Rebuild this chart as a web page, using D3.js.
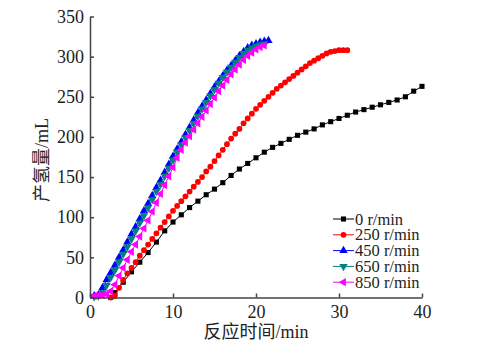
<!DOCTYPE html>
<html>
<head>
<meta charset="utf-8">
<script src="https://cdn.jsdelivr.net/npm/d3@7"></script>
<style>
  body { margin: 0; background: #fff; }
  svg text { font-family: "Liberation Serif", "Noto Sans CJK SC", serif; fill: #222; }
</style>
</head>
<body>
<div id="chart"></div>
<script>
// time (min) for each curve
var T_0 = [2.5, 3, 4, 5, 6, 7, 8, 9, 10, 11, 12, 13, 14, 15, 16, 17, 18, 19, 20, 21, 22, 23, 24, 25, 26, 27, 28, 29, 30, 31, 32, 33, 34, 35, 36, 37, 38, 39, 40];
var V_0 = [0, 6, 19, 32, 44, 56, 69, 83, 94, 103, 112, 120, 128, 135, 143, 152, 160, 167, 174, 181, 187, 192, 197, 202, 206, 210, 215, 219, 223, 227, 231, 234, 237, 240, 243, 246, 250, 257, 263];

var T_250 = [2.5, 3, 3.5, 4, 4.5, 5, 5.5, 6, 6.5, 7, 7.5, 8, 8.5, 9, 9.5, 10, 10.5, 11, 11.5, 12, 12.5, 13, 13.5, 14, 14.5, 15, 15.5, 16, 16.5, 17, 17.5, 18, 18.5, 19, 19.5, 20, 20.5, 21, 21.5, 22, 22.5, 23, 23.5, 24, 24.5, 25, 25.5, 26, 26.5, 27, 27.5, 28, 28.5, 29, 29.5, 30, 30.5, 31];
var V_250 = [0, 2, 12, 22, 30, 37, 44, 52, 59, 66, 73, 80, 87, 94, 101, 108, 114, 120, 126, 132, 138, 144, 150, 157, 163, 170, 177, 184, 191, 198, 204, 210, 217, 223, 229, 235, 240, 245, 250, 255, 260, 264, 268, 272, 276, 280, 284, 288, 292, 295, 298, 301, 304, 306, 307, 308, 308, 308];

var T_FAST = [0.5, 1, 1.5, 2, 2.5, 3, 3.5, 4, 4.5, 5, 5.5, 6, 6.5, 7, 7.5, 8, 8.5, 9, 9.5, 10, 10.5, 11, 11.5, 12, 12.5, 13, 13.5, 14, 14.5, 15, 15.5, 16, 16.5, 17, 17.5, 18, 18.5, 19, 19.5, 20, 20.5, 21, 21.5];
var V_450 = [2, 3, 12, 22, 31, 40, 50, 59, 69, 79, 88, 98, 108, 117, 127, 137, 146, 156, 166, 176, 185, 194, 203, 212, 221, 230, 238, 246, 254, 262, 269, 276, 283, 289, 295, 301, 306, 311, 314, 316, 318, 319, 320];
var V_650 = [1, 2, 6, 15, 25, 34, 44, 54, 63, 73, 83, 93, 102, 112, 122, 132, 141, 151, 161, 171, 181, 190, 199, 208, 217, 226, 235, 243, 251, 259, 267, 274, 281, 287, 293, 299, 304, 308, 311, 313, 315, 316];
var V_850 = [2, 3, 3, 4, 8, 16, 27, 37, 47, 57, 66, 76, 86, 96, 107, 118, 129, 140, 151, 162, 174, 184, 193, 201, 209, 217, 225, 233, 241, 249, 257, 264, 271, 278, 284, 290, 296, 301, 305, 309, 312, 314];

var NAMES = ["0 r/min", "250 r/min", "450 r/min", "650 r/min", "850 r/min"];
var X_TICKS = [0, 10, 20, 30, 40];
var Y_TICKS = [0, 50, 100, 150, 200, 250, 300, 350];

var series = [
  {name: NAMES[0], t: T_0, v: V_0, color: "#000000", sym: d3.symbolSquare, size: 26, rot: 0},
  {name: NAMES[1], t: T_250, v: V_250, color: "#ff0000", sym: d3.symbolCircle, size: 26, rot: 0},
  {name: NAMES[2], t: T_FAST, v: V_450, color: "#0000ff", sym: d3.symbolTriangle, size: 30, rot: 0},
  {name: NAMES[3], t: T_FAST, v: V_650, color: "#008080", sym: d3.symbolTriangle, size: 30, rot: 180},
  {name: NAMES[4], t: T_FAST, v: V_850, color: "#ff00ff", sym: d3.symbolTriangle, size: 30, rot: -90}
];

var W = 477, H = 353;
var x = d3.scaleLinear().domain([0, 40]).range([90, 422]);
var y = d3.scaleLinear().domain([0, 350]).range([297.5, 16.5]);

var svg = d3.select("#chart").append("svg").attr("width", W).attr("height", H);

// curves
var line = d3.line().x(function(d) { return x(d[0]); }).y(function(d) { return y(d[1]); });
series.forEach(function(s) {
  var pts = s.v.map(function(v, i) { return [s.t[i], v]; });
  var g = svg.append("g");
  g.append("path").datum(pts).attr("d", line)
    .attr("fill", "none").attr("stroke", s.color).attr("stroke-width", 1);
  g.selectAll("path.m").data(pts).enter().append("path").attr("class", "m")
    .attr("d", d3.symbol().type(s.sym).size(s.size))
    .attr("transform", function(d) { return "translate(" + x(d[0]) + "," + y(d[1]) + ") rotate(" + s.rot + ")"; })
    .attr("fill", s.color);
});

// axes (ticks inside)
var xAxis = svg.append("g").attr("transform", "translate(0," + y(0) + ")")
  .call(d3.axisBottom(x).tickValues(X_TICKS).tickSize(-4).tickPadding(8).tickSizeOuter(0));
var yAxis = svg.append("g").attr("transform", "translate(" + x(0) + ",0)")
  .call(d3.axisLeft(y).tickValues(Y_TICKS).tickSize(-4).tickPadding(6).tickSizeOuter(0));
[xAxis, yAxis].forEach(function(a) {
  a.selectAll("path, line").attr("stroke", "#444").attr("stroke-width", 1.5);
  a.selectAll("text").style("font-size", "18px").style("font-family", "Liberation Serif").attr("fill", "#222");
});
xAxis.selectAll("text").attr("dy", "0.71em");

// axis titles
svg.append("text").attr("x", 256).attr("y", 338).attr("text-anchor", "middle")
  .style("font-size", "18px").text("反应时间/min");
svg.append("text").attr("transform", "translate(48,160) rotate(-90)").attr("text-anchor", "middle")
  .style("font-size", "18px").text("产氢量/mL");

// legend
var leg = svg.append("g");
series.forEach(function(s, i) {
  var ly = 219 + i * 15.8;
  leg.append("line").attr("x1", 333).attr("x2", 354).attr("y1", ly).attr("y2", ly)
    .attr("stroke", s.color).attr("stroke-width", 1);
  leg.append("path").attr("d", d3.symbol().type(s.sym).size(s.size))
    .attr("transform", "translate(343.5," + ly + ") rotate(" + s.rot + ")").attr("fill", s.color);
  leg.append("text").attr("x", 355).attr("y", ly + 5.5).style("font-size", "16.5px").text(s.name);
});
</script>
</body>
</html>
